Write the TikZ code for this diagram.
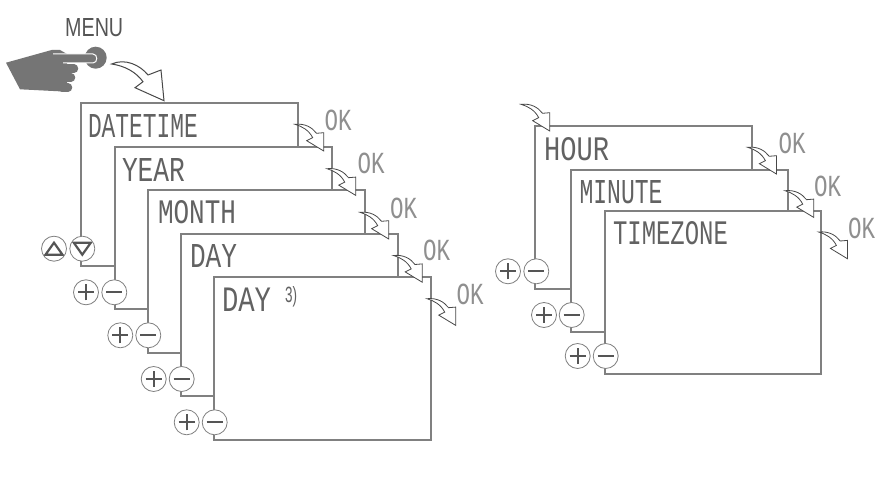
\documentclass[tikz,border=0pt]{standalone}
\usepackage{graphicx}
\usepackage{fontspec}
\setmainfont{Liberation Sans}
\newfontfamily\lcdfont{Liberation Mono}
\definecolor{edge}{HTML}{808080}
\definecolor{ink}{HTML}{555555}
\definecolor{lcdink}{HTML}{626262}
\definecolor{okgray}{HTML}{8F8F8F}
\definecolor{handgray}{HTML}{757575}
\newcommand{\lcdt}[3]{\resizebox{#1pt}{#2pt}{\lcdfont #3}}
\newcommand{\menut}[3]{\resizebox{#1pt}{#2pt}{#3}}
\tikzset{
  panel/.style={draw=edge,fill=white,line width=2pt,anchor=north west,inner sep=0pt,outer sep=0pt,rectangle},
  lcdlabel/.style={text=lcdink,anchor=north west,inner sep=0pt,outer sep=0pt},
  oklabel/.style={text=okgray,anchor=north west,inner sep=0pt,outer sep=0pt},
  sym/.style={draw=ink,line width=1.9pt},
  btn/.style={circle,draw=edge,fill=white,line width=0.8pt,minimum size=25pt,inner sep=0pt,outer sep=0pt},
  plusbtn/.style={btn,path picture={
    \draw[sym] ([xshift=-8pt]path picture bounding box.center) -- ([xshift=8pt]path picture bounding box.center);
    \draw[sym] ([yshift=-8pt]path picture bounding box.center) -- ([yshift=8pt]path picture bounding box.center);}},
  minusbtn/.style={btn,path picture={
    \draw[sym] ([xshift=-8pt]path picture bounding box.center) -- ([xshift=8pt]path picture bounding box.center);}},
  arrowline/.style={draw=ink!85!black,fill=white,line width=0.8pt,line join=miter},
  okarrow/.pic={\path[arrowline] (0,0) .. controls (10,-1) and (17,3) .. (21.5,9) -- (28.7,8.4) -- (28.7,26.7) -- (11.7,16.4) -- (17.7,13.4) .. controls (14,6) and (7,2) .. cycle;}
}
\begin{document}
\begin{tikzpicture}[x=1pt,y=-1pt]
\useasboundingbox (0,0) rectangle (884,478);
\fill[white] (0,0) rectangle (884,478);
% left stack
\node[panel,minimum width=217pt,minimum height=163pt] (a1) at (81,103.5) {};
\node[panel,minimum width=217pt,minimum height=162pt] (a2) at (114.5,147) {};
\node[panel,minimum width=217pt,minimum height=163pt] (a3) at (147.5,190) {};
\node[panel,minimum width=217pt,minimum height=162pt] (a4) at (180.5,234) {};
\node[panel,minimum width=217.5pt,minimum height=163pt] (a5) at (213.5,277) {};
% right stack
\node[panel,minimum width=217pt,minimum height=163.5pt] (b1) at (535,126) {};
\node[panel,minimum width=217pt,minimum height=162.5pt] (b2) at (570.5,170) {};
\node[panel,minimum width=216pt,minimum height=163pt] (b3) at (605,211) {};
% lcd texts
\node[lcdlabel] (t1) at (88,114) {\lcdt{110}{23}{DATETIME}};
\node[lcdlabel] (t2) at (122,158) {\lcdt{63}{23}{YEAR}};
\node[lcdlabel] (t3) at (158,201) {\lcdt{78}{23}{MONTH}};
\node[lcdlabel] (t4) at (190,244) {\lcdt{47}{23}{DAY}};
\node[lcdlabel] (t5) at (222,288) {\lcdt{49}{23.5}{DAY}};
\node[lcdlabel] (t5n) at (285,287) {\resizebox{12pt}{16pt}{3)}};
\node[lcdlabel] (u1) at (544,137.5) {\lcdt{65}{23}{HOUR}};
\node[lcdlabel] (u2) at (579.5,180) {\lcdt{83}{23}{MINUTE}};
\node[lcdlabel] (u3) at (613,222) {\lcdt{115}{23}{TIMEZONE}};
% OK labels
\node[oklabel] (k1) at (324.5,110) {\lcdt{27}{20.5}{OK}};
\node[oklabel] (k2) at (357.5,153.5) {\lcdt{27}{20.5}{OK}};
\node[oklabel] (k3) at (390,198) {\lcdt{27}{20.5}{OK}};
\node[oklabel] (k4) at (423,240) {\lcdt{27}{20.5}{OK}};
\node[oklabel] (k5) at (456.5,284) {\lcdt{27}{20.5}{OK}};
\node[oklabel] (k6) at (778.5,133) {\lcdt{27}{20.5}{OK}};
\node[oklabel] (k7) at (814,176) {\lcdt{27}{20.5}{OK}};
\node[oklabel] (k8) at (848,218) {\lcdt{27}{20.5}{OK}};
% buttons
\node[btn,path picture={\draw[draw=ink,line width=2.2pt,line join=miter] ([shift={(-8.5pt,-6pt)}]path picture bounding box.center) -- ([shift={(8.5pt,-6pt)}]path picture bounding box.center) -- ([shift={(0pt,6pt)}]path picture bounding box.center) -- cycle;}] (up) at (54,248.7) {};
\node[btn,path picture={\draw[draw=ink,line width=2.2pt,line join=miter] ([shift={(-8.5pt,6pt)}]path picture bounding box.center) -- ([shift={(8.5pt,6pt)}]path picture bounding box.center) -- ([shift={(0pt,-6pt)}]path picture bounding box.center) -- cycle;}] (down) at (82.3,248.7) {};
\node[plusbtn] (p1) at (86,292.3) {};   \node[minusbtn] (m1) at (114.3,292.3) {};
\node[plusbtn] (p2) at (120.3,335.3) {};\node[minusbtn] (m2) at (148.3,335.3) {};
\node[plusbtn] (p3) at (153.7,379) {};  \node[minusbtn] (m3) at (181.7,379) {};
\node[plusbtn] (p4) at (186.7,422.3) {};\node[minusbtn] (m4) at (214.7,422.3) {};
\node[plusbtn] (q1) at (508,271.3) {};  \node[minusbtn] (r1) at (536.3,271.3) {};
\node[plusbtn] (q2) at (544,315) {};    \node[minusbtn] (r2) at (571.7,315) {};
\node[plusbtn] (q3) at (577.7,356) {};  \node[minusbtn] (r3) at (605.7,356) {};
% arrows
\pic at (295,124.3) {okarrow};
\pic at (327,168.7) {okarrow};
\pic at (360,212.3) {okarrow};
\pic at (393.5,255.5) {okarrow};
\pic at (427,298.7) {okarrow};
\pic at (747.7,147.3) {okarrow};
\pic at (785,190.7) {okarrow};
\pic at (818.7,232) {okarrow};
\pic at (521,104.3) {okarrow};
\path[arrowline,line width=1pt] (111.7,64) .. controls (125,58) and (140,65) .. (148,75) -- (161,70) -- (164,100.7) -- (135,87.7) -- (143,81.7) .. controls (136,72) and (125,66) .. cycle;
% MENU + hand
\node[text=ink,anchor=north west,inner sep=0pt] (menu) at (65,18.5) {\menut{58}{18}{MENU}};
\node[circle,fill=handgray,minimum size=22pt,inner sep=0pt] (press) at (95.7,57.7) {};
\fill[handgray] (6,62.7) -- (51.7,50) -- (60,50) -- (67,54) -- (67,91.7) -- (20,89.3) -- cycle;
\draw[handgray,line width=8.5pt,line cap=round] (62,68.7) -- (74,68.7);
\draw[handgray,line width=8.5pt,line cap=round] (62,77.5) -- (71,77.5);
\draw[handgray,line width=8.5pt,line cap=round] (62,87.5) -- (68,87.5);
\path[fill=handgray,draw=white,line width=1pt] (53,54) -- (93,54) .. controls (98,54) and (98,63) .. (93,63) -- (63,63);
\end{tikzpicture}
\end{document}
